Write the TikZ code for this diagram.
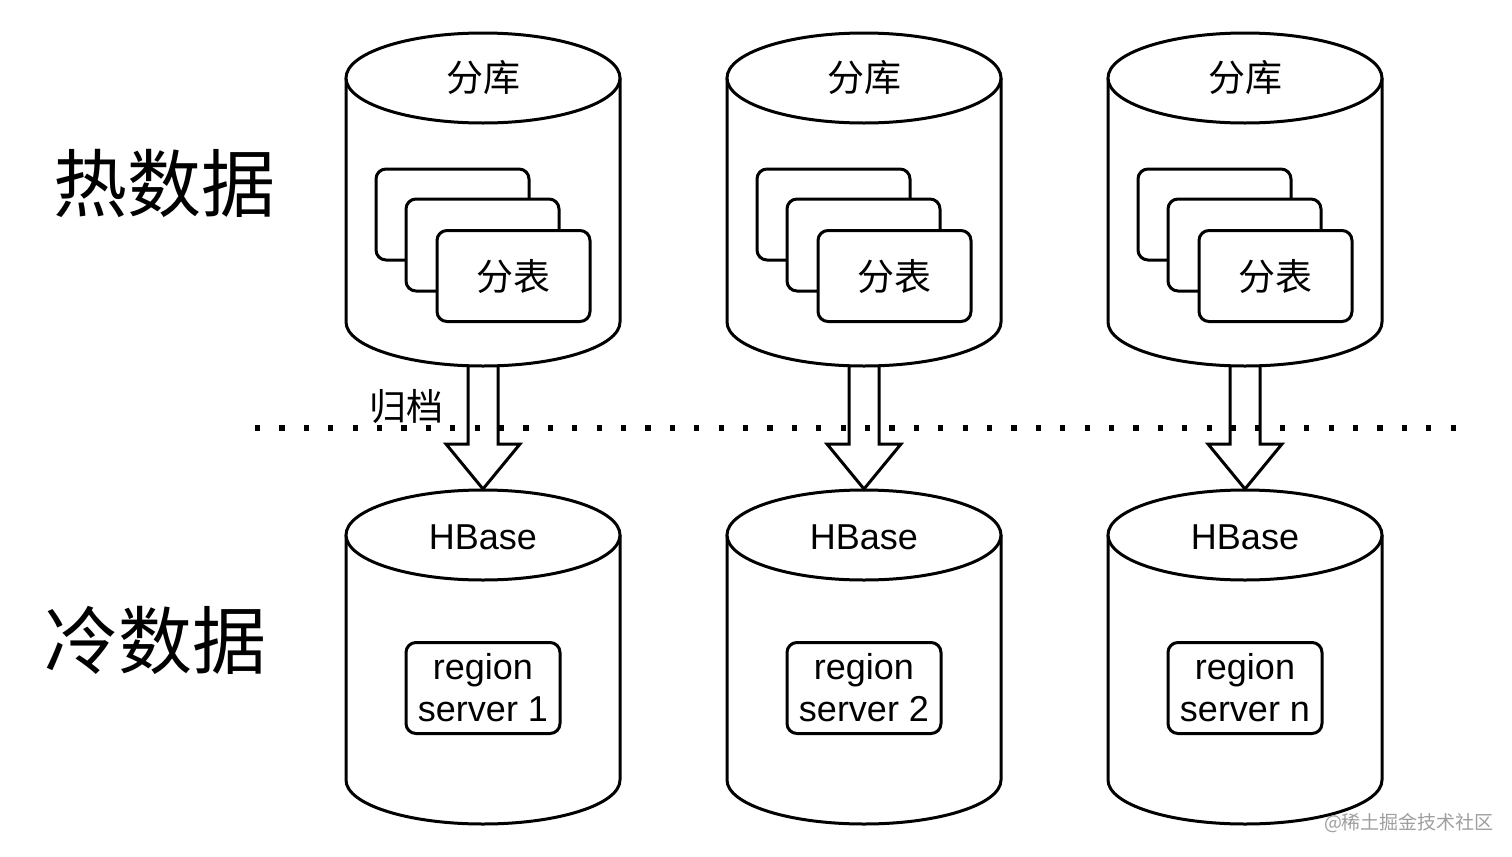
\documentclass[tikz,border=0pt]{standalone}
\usepackage{fontspec}
\setmainfont{Liberation Sans}
\newfontfamily\cjk{Noto Sans CJK SC}
\usetikzlibrary{calc}
\tikzset{
  outline/.style={draw=black, line width=1.5pt, fill=white},
  tbl/.style={draw=black, line width=1.5pt, fill=white, rounded corners=5pt},
  blockarrow/.style={draw=black, line width=1.5pt, line join=miter},
  cjklabel/.style={font=\cjk\fontsize{18.5pt}{22pt}\selectfont, inner sep=0pt},
  latlabel/.style={font=\fontsize{18pt}{21pt}\selectfont, inner sep=0pt, align=center},
  biglabel/.style={font=\cjk\fontsize{37pt}{44pt}\selectfont, inner sep=0pt},
  dotline/.style={line width=2.6pt, dash pattern=on 2.6pt off 9.6pt},
  watermark/.style={font=\cjk\fontsize{9.5pt}{11pt}\selectfont, text=black!38, inner sep=0pt}
}
\newcommand\drawcyl[3]{%
  \draw[outline] (#1-137,#2) -- (#1-137,#3) arc[start angle=180,end angle=360,x radius=137,y radius=44] -- (#1+137,#2);
  \draw[outline] (#1,#2) ellipse[x radius=137,y radius=45];
}
\begin{document}
\begin{tikzpicture}[x=0.5pt,y=0.5pt]
\useasboundingbox (0,0) rectangle (1512,-857);
% hot cylinders
\foreach \cx/\n in {483/1,864/2,1245/3}{
  \drawcyl{\cx}{-78}{-322}
  \node[cjklabel] (ku\n) at (\cx,-78) {分库};
  \draw[tbl] (\cx-107,-169) rectangle (\cx+46,-260);
  \draw[tbl] (\cx-77,-199) rectangle (\cx+76,-291);
  \node[tbl, minimum width=76.5pt, minimum height=45.5pt, inner sep=0pt] (biao\n) at (\cx+30.5,-276) {};
  \node[cjklabel] at (biao\n.center) {分表};
  \coordinate (h\n) at (\cx,-367);
}
% cold cylinders
\foreach \cx/\n/\s in {483/1/1,864/2/2,1245/3/n}{
  \drawcyl{\cx}{-535}{-780}
  \node[latlabel] (hb\n) at (\cx,-537) {HBase};
  \node[tbl, minimum width=77pt, minimum height=45.5pt, inner sep=0pt, latlabel] (rs\n) at (\cx,-688) {region\\server \s};
  \coordinate (c\n) at (\cx,-489);
}
% dotted separator
\coordinate (dl) at (255,-428);
\coordinate (dr) at (1458,-428);
\draw[dotline] (dl) -- (dr);
% block arrows
\foreach \n in {1,2,3}{
  \draw[blockarrow] ($(h\n)+(-15,0)$) -- ($(h\n)+(-15,-77)$) -- ($(h\n)+(-37,-77)$) -- (c\n) -- ($(h\n)+(37,-77)$) -- ($(h\n)+(15,-77)$) -- ($(h\n)+(15,0)$);
}
\node[cjklabel] (gd) at (406,-407) {归档};
\node[biglabel] (hot) at (165,-183) {热数据};
\node[biglabel] (cold) at (156,-640) {冷数据};
\node[watermark] (wm) at (1409,-823) {@稀土掘金技术社区};
\end{tikzpicture}
\end{document}
